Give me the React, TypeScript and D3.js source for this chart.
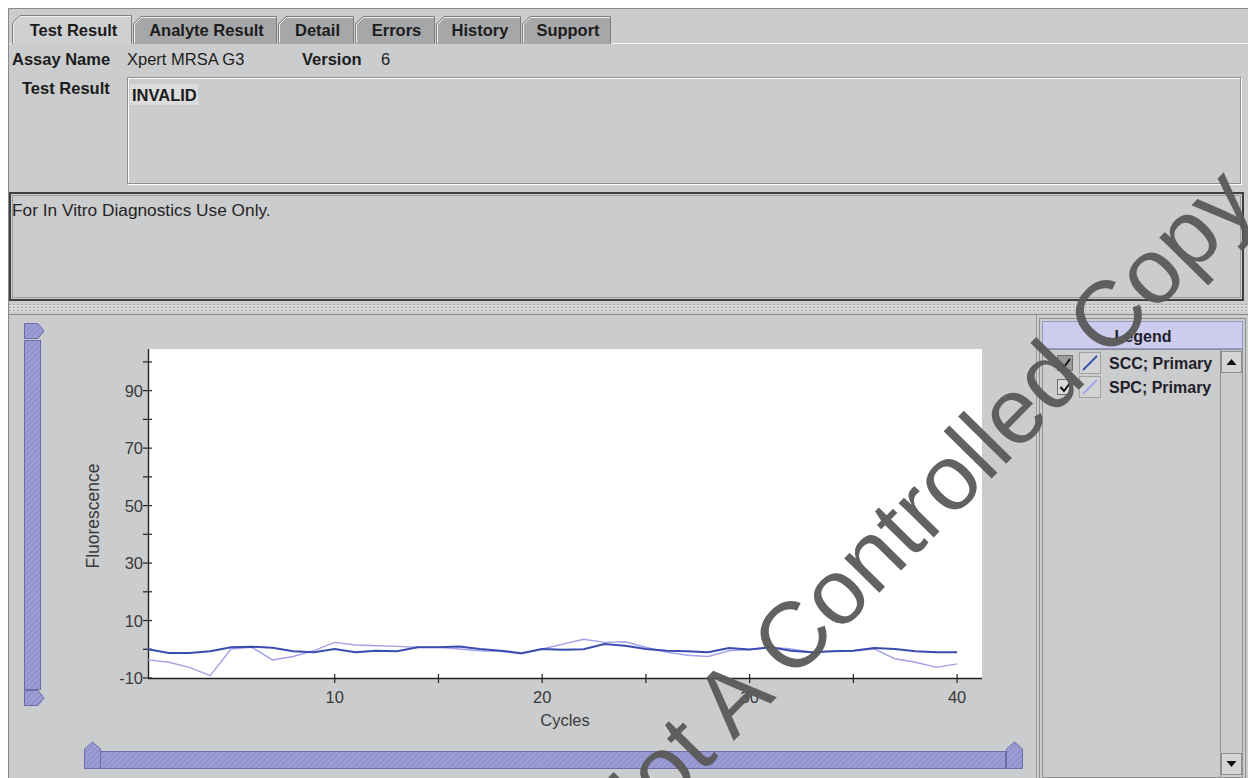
import React, { useEffect, useRef } from "react";
import * as d3 from "d3";

const cycles = d3.range(1, 41);
const sccValues = [0, -1.3, -1.3, -0.7, 0.7, 0.9, 0.5, -0.7, -1, 0.1, -1, -0.5, -0.7, 0.7, 0.7, 1, 0.1, -0.5, -1.4, 0.1, -0.2, 0, 1.8, 1.2, 0.1, -0.5, -0.7, -1, 0.4, -0.1, 0.7, -0.5, -1, -0.7, -0.5, 0.4, 0.1, -0.7, -1, -1];
const spcValues = [-3.7, -4.5, -6.3, -9.2, 0.1, 0.7, -3.7, -2.5, -0.5, 2.4, 1.5, 1.2, 1, 0.7, 0.7, 0.1, -0.5, -0.7, -1.6, 0.1, 1.8, 3.5, 2.4, 2.6, 0.7, -1, -2.1, -2.5, -0.5, -0.1, 0.7, 0.1, -1, -0.7, -0.5, 0.1, -3.3, -4.5, -6.3, -5.1];
const seriesNames = ["SCC; Primary", "SPC; Primary"];
const seriesColors = ["#3b4bb0", "#a2a2e8"];
const xTicks = [10, 15, 20, 25, 30, 35, 40];
const xLabels = [10, 20, 30, 40];
const yTicks = d3.range(-10, 101, 10);
const yLabels = [-10, 10, 30, 50, 70, 90];
const tabs = ["Test Result", "Analyte Result", "Detail", "Errors", "History", "Support"];
const tabEdges = [12, 133, 278, 355, 436, 522, 612];

const FONT = "'Liberation Sans', Arial, sans-serif";
const BG = "#cbcccd";

export default function App() {
  const ref = useRef<SVGSVGElement>(null);

  useEffect(() => {
    const svg = d3.select(ref.current);
    svg.selectAll("*").remove();
    const W = 1248, H = 778;

    const defs = svg.append("defs");
    const pat = defs.append("pattern").attr("id", "hatch").attr("width", 4).attr("height", 4)
      .attr("patternUnits", "userSpaceOnUse").attr("patternTransform", "rotate(45)");
    pat.append("rect").attr("width", 4).attr("height", 4).attr("fill", "#9d9dd6");
    pat.append("line").attr("x1", 0).attr("y1", 0).attr("x2", 0).attr("y2", 4).attr("stroke", "#8686c4").attr("stroke-width", 1.6);
    const dots = defs.append("pattern").attr("id", "dots").attr("width", 4).attr("height", 3)
      .attr("patternUnits", "userSpaceOnUse");
    dots.append("rect").attr("width", 4).attr("height", 3).attr("fill", "#d6d7d8");
    dots.append("rect").attr("x", 1).attr("y", 1).attr("width", 2).attr("height", 1).attr("fill", "#a9aaab");

    svg.append("rect").attr("width", W).attr("height", H).attr("fill", "#ffffff");
    svg.append("rect").attr("x", 8).attr("y", 8).attr("width", W - 8).attr("height", H - 8).attr("fill", BG);
    svg.append("path").attr("d", `M8.5,${H}V8.5H${W}`).attr("fill", "none").attr("stroke", "#8a8a8c");

    // tabs
    const tabTop = 16, tabBot = 43;
    svg.append("line").attr("x1", 9).attr("x2", W).attr("y1", tabBot + 0.5).attr("y2", tabBot + 0.5).attr("stroke", "#f4f4f4");
    tabs.forEach((t, i) => {
      const x0 = tabEdges[i], x1 = tabEdges[i + 1];
      const sel = i === 0;
      const top = sel ? tabTop - 1 : tabTop;
      const p = `M${x0 + 0.5},${tabBot + 1}V${top + 8}L${x0 + 8},${top + 0.5}H${x1 - 1.5}V${tabBot + 1}`;
      svg.append("path").attr("d", p + "Z").attr("fill", sel ? "#cfd0d2" : "#a6a7a9").attr("stroke", "none");
      svg.append("path").attr("d", `M${x0 + 1.5},${tabBot}V${top + 8.5}L${x0 + 8.5},${top + 1.5}H${x1 - 2}`).attr("fill", "none").attr("stroke", "#f0f0f0");
      svg.append("path").attr("d", p).attr("fill", "none").attr("stroke", "#7e7f81");
      svg.append("text").attr("x", (x0 + x1) / 2 + 1).attr("y", 36).attr("text-anchor", "middle")
        .attr("font-family", FONT).attr("font-weight", "bold").attr("font-size", 16.5).attr("fill", "#1c1c1c").text(t);
    });

    const txt = (x: number, y: number, s: string, bold = false, size = 16, anchor = "start", fill = "#1c1c1c") =>
      svg.append("text").attr("x", x).attr("y", y).attr("font-family", FONT).attr("font-size", size)
        .attr("font-weight", bold ? "bold" : "normal").attr("text-anchor", anchor).attr("fill", fill).text(s);

    txt(12, 65, "Assay Name", true, 16.5);
    txt(127, 65, "Xpert MRSA G3", false, 16.5);
    txt(302, 65, "Version", true, 16.5);
    txt(381, 65, "6", false, 16.5);
    txt(22, 94, "Test Result", true, 16.5);

    // result box
    svg.append("rect").attr("x", 128.5).attr("y", 78.5).attr("width", 1113).attr("height", 106).attr("fill", "none").attr("stroke", "#ffffff");
    svg.append("rect").attr("x", 127.5).attr("y", 77.5).attr("width", 1113).attr("height", 106).attr("fill", "none").attr("stroke", "#8e8f91");
    svg.append("rect").attr("x", 130).attr("y", 84).attr("width", 68).attr("height", 21).attr("fill", "#dcdcdd");
    txt(132, 101, "INVALID", true, 16.5);

    // disclaimer box
    svg.append("rect").attr("x", 10).attr("y", 193).attr("width", 1233).attr("height", 107).attr("fill", "none").attr("stroke", "#3f3f41").attr("stroke-width", 2);
    svg.append("rect").attr("x", 12.5).attr("y", 195.5).attr("width", 1228).attr("height", 102).attr("fill", "none").attr("stroke", "#9c9c9e");
    txt(12, 216, "For In Vitro Diagnostics Use Only.", false, 17.3, "start", "#252525");

    // splitter
    svg.append("rect").attr("x", 9).attr("y", 304).attr("width", W - 9).attr("height", 8).attr("fill", "url(#dots)");
    svg.append("line").attr("x1", 9).attr("x2", W).attr("y1", 314.5).attr("y2", 314.5).attr("stroke", "#8a8a8c");

    // vertical slider
    svg.append("rect").attr("x", 24.5).attr("y", 340.5).attr("width", 16).attr("height", 349).attr("fill", "url(#hatch)").attr("stroke", "#6c6ca6");
    const vThumb = (y0: number) => svg.append("path")
      .attr("d", `M24.5,${y0}H38L44,${y0 + 7.5}L38,${y0 + 15}H24.5Z`).attr("fill", "url(#hatch)").attr("stroke", "#6c6ca6");
    vThumb(323.5);
    vThumb(690.5);

    // horizontal slider
    svg.append("rect").attr("x", 100.5).attr("y", 751.5).attr("width", 905).attr("height", 17).attr("fill", "url(#hatch)").attr("stroke", "#6c6ca6");
    const hThumb = (x0: number) => svg.append("path")
      .attr("d", `M${x0},768.5V749L${x0 + 8},742L${x0 + 16},749V768.5Z`).attr("fill", "url(#hatch)").attr("stroke", "#6c6ca6");
    hThumb(84.5);
    hThumb(1006.5);

    // plot
    const x = d3.scaleLinear().domain([1, 41.2]).range([148, 982]);
    const y = d3.scaleLinear().domain([-10, 104.5]).range([678, 349]);
    svg.append("rect").attr("x", 148).attr("y", 349).attr("width", 834).attr("height", 329).attr("fill", "#ffffff");

    const g = svg.append("g");
    const axisColor = "#222";
    g.append("line").attr("x1", 148.5).attr("x2", 148.5).attr("y1", 349).attr("y2", 678).attr("stroke", axisColor).attr("stroke-width", 1.4);
    g.append("line").attr("x1", 148).attr("x2", 982).attr("y1", 678.5).attr("y2", 678.5).attr("stroke", axisColor).attr("stroke-width", 1.4);
    yTicks.forEach((v) => {
      g.append("line").attr("x1", 143).attr("x2", 152).attr("y1", y(v)).attr("y2", y(v)).attr("stroke", axisColor).attr("stroke-width", 1.2);
    });
    yLabels.forEach((v) => {
      g.append("text").attr("x", 143).attr("y", y(v) + 6).attr("text-anchor", "end").attr("font-family", FONT)
        .attr("font-size", 16.5).attr("fill", "#3a3a3a").text(String(v));
    });
    xTicks.forEach((v) => {
      g.append("line").attr("x1", x(v)).attr("x2", x(v)).attr("y1", 674).attr("y2", 683).attr("stroke", axisColor).attr("stroke-width", 1.2);
    });
    xLabels.forEach((v) => {
      g.append("text").attr("x", x(v)).attr("y", 703).attr("text-anchor", "middle").attr("font-family", FONT)
        .attr("font-size", 16.5).attr("fill", "#3a3a3a").text(String(v));
    });
    g.append("text").attr("x", 565).attr("y", 726).attr("text-anchor", "middle").attr("font-family", FONT)
      .attr("font-size", 16.5).attr("fill", "#3a3a3a").text("Cycles");
    g.append("text").attr("transform", "translate(99,516) rotate(-90)").attr("text-anchor", "middle").attr("font-family", FONT)
      .attr("font-size", 17.5).attr("fill", "#3a3a3a").text("Fluorescence");

    const line = d3.line<number>().x((_, i) => x(cycles[i])).y((d) => y(d));
    g.append("path").attr("d", line(spcValues)).attr("fill", "none").attr("stroke", seriesColors[1]).attr("stroke-width", 1.4);
    g.append("path").attr("d", line(sccValues)).attr("fill", "none").attr("stroke", seriesColors[0]).attr("stroke-width", 2);

    // divider + legend panel
    svg.append("line").attr("x1", 1036.5).attr("x2", 1036.5).attr("y1", 315).attr("y2", H).attr("stroke", "#9a9a9c");
    svg.append("rect").attr("x", 1039.5).attr("y", 318.5).attr("width", 206).attr("height", 462).attr("fill", BG).attr("stroke", "#8e8f91");
    svg.append("rect").attr("x", 1042.5).attr("y", 321.5).attr("width", 200).attr("height", 27).attr("fill", "#cdcbee").attr("stroke", "#9896c6");
    txt(1143, 342, "Legend", true, 16, "middle", "#1e1e2a");
    svg.append("rect").attr("x", 1042.5).attr("y", 349.5).attr("width", 178).attr("height", 428).attr("fill", BG).attr("stroke", "#8e8f91");
    // scrollbar
    svg.append("rect").attr("x", 1220.5).attr("y", 349.5).attr("width", 22).attr("height", 428).attr("fill", BG).attr("stroke", "#8e8f91");
    [[351, true], [753, false]].forEach(([by, up]) => {
      const b = by as number;
      svg.append("rect").attr("x", 1221.5).attr("y", b + 0.5).attr("width", 20).attr("height", 21).attr("fill", "#d4d5d6").attr("stroke", "#8e8f91");
      const cx = 1231.5, cy = b + 11;
      svg.append("path").attr("d", up ? `M${cx - 5},${cy + 3}L${cx + 5},${cy + 3}L${cx},${cy - 3}Z` : `M${cx - 5},${cy - 3}L${cx + 5},${cy - 3}L${cx},${cy + 3}Z`).attr("fill", "#111");
    });
    seriesNames.forEach((name, i) => {
      const cy = 363 + i * 24;
      svg.append("rect").attr("x", 1057.5).attr("y", cy - 7.5).attr("width", 15).attr("height", 15).attr("fill", i === 0 ? "#9a9a9c" : "#dadadb").attr("stroke", "#6f6f71");
      svg.append("path").attr("d", `M${1060.5},${cy}L${1064},${cy + 4}L${1070},${cy - 4}`).attr("fill", "none").attr("stroke", "#111").attr("stroke-width", 2);
      svg.append("rect").attr("x", 1079.5).attr("y", cy - 10.5).attr("width", 21).attr("height", 21).attr("fill", "#d2d3d4").attr("stroke", "#a0a0a2");
      svg.append("line").attr("x1", 1083).attr("y1", cy + 7).attr("x2", 1097).attr("y2", cy - 7).attr("stroke", seriesColors[i]).attr("stroke-width", 1.8);
      txt(1109, cy + 6, name, true, 16, "start", "#1e1e2a");
    });

    // watermark
    svg.append("text").attr("transform", "translate(915,510) rotate(-45.5)").attr("text-anchor", "middle").attr("dy", "0.35em")
      .attr("font-family", FONT).attr("font-size", 93).attr("fill", "#5a5a5a").attr("opacity", 0.95).text("Not A Controlled Copy");
  }, []);

  return <svg ref={ref} width={1248} height={778} style={{ position: "absolute", left: 0, top: 0 }} />;
}
